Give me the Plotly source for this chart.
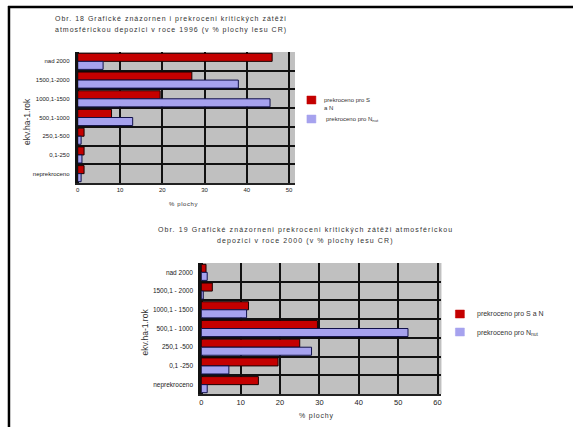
import plotly.graph_objects as go

W, H = 573, 427

# ---------------- data ----------------
cats_1996 = ["nad 2000", "1500,1-2000", "1000,1-1500", "500,1-1000",
             "250,1-500", "0,1-250", "neprekroceno"]
sn_1996 = [46, 27, 19.5, 8, 1.5, 1.5, 1.5]
nnut_1996 = [6, 38, 45.5, 13, 0.8, 1, 0.8]

cats_2000 = ["nad 2000", "1500,1 - 2000", "1000,1 - 1500", "500,1 - 1000",
             "250,1 -500", "0,1 -250", "neprekroceno"]
sn_2000 = [1.2, 2.8, 12, 29.5, 25, 19.5, 14.5]
nnut_2000 = [1.5, 0.5, 11.5, 52.5, 28, 7, 1.5]

xticks_1996 = [0, 10, 20, 30, 40, 50]
xticks_2000 = [0, 10, 20, 30, 40, 50, 60]

name_sn_1 = "prekroceno pro S<br>a N"
name_sn_2 = "prekroceno pro S a N"
name_nnut = "prekroceno pro N<sub>nut</sub>"

RED = "#c40000"
BLUE = "#a6a2ee"
FONT = "Arial, Liberation Sans, sans-serif"


def px(x):
    return x / W


def py(y):
    return 1 - y / H


def spaced(t, sp):
    return '<span style="letter-spacing:%spx">%s</span>' % (sp, t)


fig = go.Figure()

fig.add_trace(go.Bar(y=cats_1996, x=sn_1996, orientation="h", name=name_sn_1,
                     marker=dict(color=RED, line=dict(color="#1a0000", width=1)),
                     xaxis="x", yaxis="y", showlegend=False))
fig.add_trace(go.Bar(y=cats_1996, x=nnut_1996, orientation="h", name=name_nnut,
                     marker=dict(color=BLUE, line=dict(color="#10104a", width=1)),
                     xaxis="x", yaxis="y", showlegend=False))
fig.add_trace(go.Bar(y=cats_2000, x=sn_2000, orientation="h", name=name_sn_2,
                     marker=dict(color=RED, line=dict(color="#1a0000", width=1)),
                     xaxis="x2", yaxis="y2", showlegend=False))
fig.add_trace(go.Bar(y=cats_2000, x=nnut_2000, orientation="h", name=name_nnut,
                     marker=dict(color=BLUE, line=dict(color="#10104a", width=1)),
                     xaxis="x2", yaxis="y2", showlegend=False))

axis_common = dict(showgrid=True, gridcolor="#111111", gridwidth=2,
                   showline=True, linecolor="#222222", linewidth=2,
                   zeroline=True, zerolinecolor="#111111", zerolinewidth=3,
                   ticks="", color="#222222")

fig.update_layout(
    width=W, height=H,
    margin=dict(l=0, r=0, t=0, b=0),
    paper_bgcolor="white",
    plot_bgcolor="#c0c0c0",
    barmode="group", bargap=0.14, bargroupgap=0.0,
    font=dict(family=FONT, color="#222222"),
    xaxis=dict(domain=[px(76), px(294)], range=[0, 51.4], anchor="y",
               tickvals=xticks_1996, tickfont=dict(size=6), **axis_common),
    yaxis=dict(domain=[py(183), py(52)], anchor="x", type="category",
               categoryorder="array", categoryarray=cats_1996,
               autorange="reversed", tickson="boundaries",
               showgrid=True, gridcolor="#111111", gridwidth=2,
               showline=True, linecolor="#111111", linewidth=3,
               ticks="", tickfont=dict(size=6), ticklabelstandoff=4),
    xaxis2=dict(domain=[px(200), px(441)], range=[0, 61], anchor="y2",
                tickvals=xticks_2000, tickfont=dict(size=7.5), **axis_common),
    yaxis2=dict(domain=[py(394), py(263)], anchor="x2", type="category",
                categoryorder="array", categoryarray=cats_2000,
                autorange="reversed", tickson="boundaries",
                showgrid=True, gridcolor="#111111", gridwidth=2,
                showline=True, linecolor="#111111", linewidth=3,
                ticks="", tickfont=dict(size=6.5), ticklabelstandoff=4),
    showlegend=False,
)

annotations = [
    dict(text=spaced("Obr. 18 Grafické znázornen i prekroceni kritických zátěži", 1.0),
         x=px(170), y=py(19), size=7),
    dict(text=spaced("atmosférickou depozici v roce 1996 (v % plochy lesu CR)", 1.0),
         x=px(170), y=py(30), size=7),
    dict(text=spaced("Obr. 19 Grafické znázorneni prekroceni kritických zátěži atmosférickou", 1.1),
         x=px(305), y=py(230), size=7),
    dict(text=spaced("depozici v roce 2000 (v % plochy lesu CR)", 1.1),
         x=px(305), y=py(241), size=7),
    dict(text=spaced("% plochy", 0.6), x=px(182), y=py(204), size=6),
    dict(text=spaced("% plochy", 0.8), x=px(316), y=py(416), size=7),
]
for a in annotations:
    fig.add_annotation(text=a["text"], x=a["x"], y=a["y"], xref="paper", yref="paper",
                       xanchor="center", yanchor="middle", showarrow=False,
                       font=dict(size=a["size"], family=FONT, color="#333333"))

for (xx, yy) in [(25, 121), (143, 332)]:
    fig.add_annotation(text="ekv.ha-1.rok", x=px(xx), y=py(yy), xref="paper", yref="paper",
                       xanchor="center", yanchor="middle", showarrow=False, textangle=-90,
                       font=dict(size=8.5, family=FONT, color="#333333"))

# legends (swatch + label), one per chart
legend_items = [
    # (swatch x0, swatch y-center, text x, text y, text, colour, font size)
    (306, 100, 321, 104, name_sn_1, RED, 6),
    (306, 119, 323, 120, name_nnut, BLUE, 6),
    (455, 314, 475, 314, name_sn_2, RED, 7),
    (455, 332, 475, 333, name_nnut, BLUE, 7),
]
for sx, sy, tx, ty, txt, col, fs in legend_items:
    fig.add_shape(type="rect", xref="paper", yref="paper",
                  x0=px(sx), x1=px(sx + 9), y0=py(sy - 4), y1=py(sy + 4),
                  fillcolor=col, line=dict(color=col, width=0.5))
    fig.add_annotation(text=txt, x=px(tx), y=py(ty), xref="paper", yref="paper",
                       xanchor="left", yanchor="middle", align="left", showarrow=False,
                       font=dict(size=fs, family=FONT, color="#333333"))

# page border (top and left)
fig.add_shape(type="line", xref="paper", yref="paper", x0=px(6), x1=1, y0=py(7), y1=py(7),
              line=dict(color="black", width=2.5))
fig.add_shape(type="line", xref="paper", yref="paper", x0=px(7), x1=px(7), y0=py(6), y1=0,
              line=dict(color="black", width=2.5))

fig.write_html("out.html")
